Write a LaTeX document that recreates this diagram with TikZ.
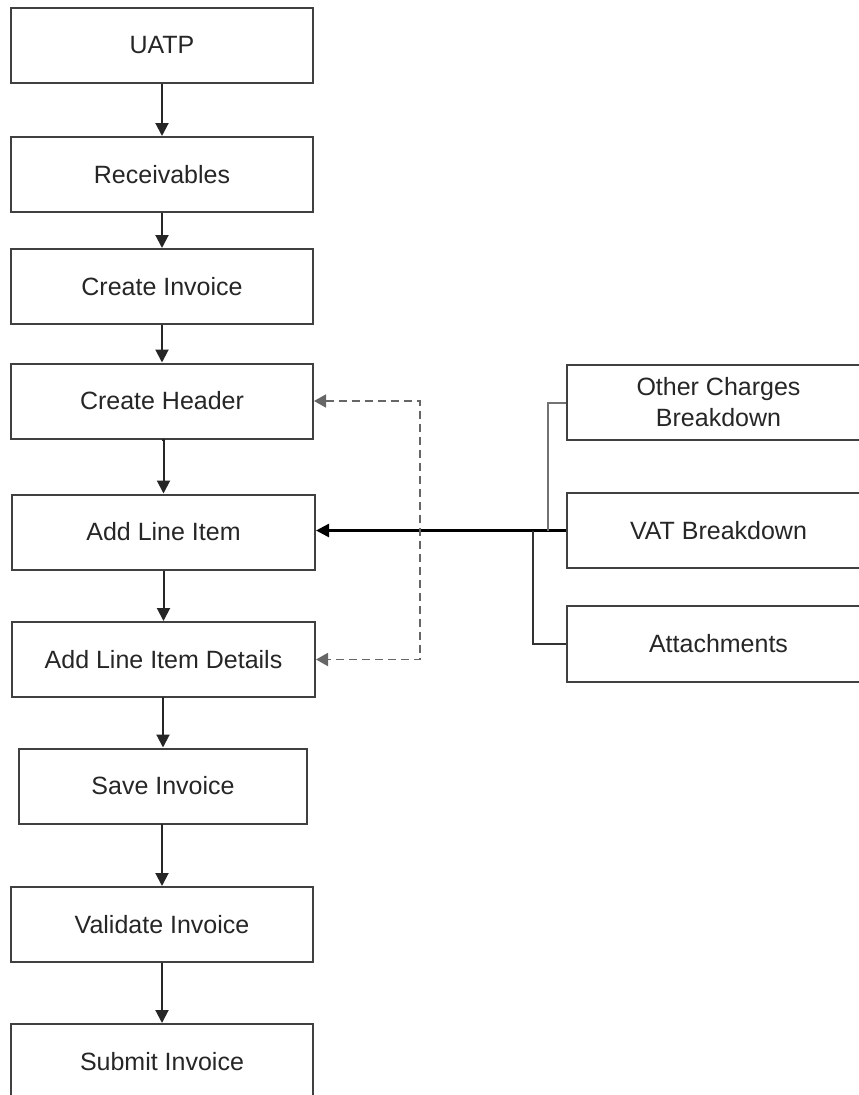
\documentclass[tikz,border=0pt]{standalone}
\usepackage{fontspec}
\setmainfont{Liberation Sans}
\usetikzlibrary{arrows.meta}
\begin{document}
\begin{tikzpicture}[x=1pt,y=-1pt,
  box/.style={draw=black!75,line width=2pt,fill=white,minimum width=302pt,minimum height=75pt,inner sep=0pt,font=\fontsize{25}{31}\selectfont,text=black!85,align=center},
  flow/.style={line width=2pt,draw=black!85,-{Triangle[width=13pt,length=13pt]}},
  feed/.style={line width=2pt,draw=black!80},
  dashlink/.style={line width=1.8pt,draw=black!60,dash pattern=on 8pt off 5pt,{Triangle[width=13pt,length=12pt]}-{Triangle[width=13pt,length=12pt]}}]
\useasboundingbox (0,0) rectangle (859,1095);
\node[box] (uatp) at (162,45.5) {UATP};
\node[box] (recv) at (162,174.5) {Receivables};
\node[box] (cinv) at (162,286.5) {Create Invoice};
\node[box] (chdr) at (162,401) {Create Header};
\node[box,minimum width=303pt] (ali) at (163.5,532) {Add Line Item};
\node[box,minimum width=303pt] (alid) at (163.5,659.5) {Add Line Item Details};
\node[box,minimum width=288pt] (save) at (163,786) {Save Invoice};
\node[box] (val) at (162,924.5) {Validate Invoice};
\node[box,minimum height=76pt] (sub) at (162,1062) {Submit Invoice};
\node[box,minimum width=303pt] (other) at (718.5,402.5) {Other Charges\\Breakdown};
\node[box,minimum width=303pt] (vat) at (718.5,530.5) {VAT Breakdown};
\node[box,minimum width=303pt,minimum height=76pt] (att) at (718.5,644) {Attachments};
\coordinate (j1) at (548,530.5);
\coordinate (j2) at (533,530.5);
\coordinate (dx) at (420,401);
\draw[flow] (uatp) -- (recv);
\draw[flow] (recv) -- (cinv);
\draw[flow] (cinv.south) -- (cinv.south |- chdr.north);
\draw[flow] (chdr.south) -- (chdr.south -| ali.north) -- (ali.north);
\draw[flow] (ali) -- (alid);
\draw[flow] (alid.south) -- (alid.south -| save.north) -- (save.north);
\draw[flow] (save.south) -- (save.south -| val.north) -- (val.north);
\draw[flow] (val) -- (sub);
\draw[line width=2.6pt,draw=black,-{Triangle[width=13pt,length=13pt]}] (vat.west) -- (vat.west -| ali.east);
\draw[feed,draw=black!55] (other.west) -| (j1);
\draw[feed] (att.west) -| (j2);
\draw[dashlink] (chdr.east) -- (chdr.east -| dx) |- (alid.east);
\end{tikzpicture}
\end{document}
